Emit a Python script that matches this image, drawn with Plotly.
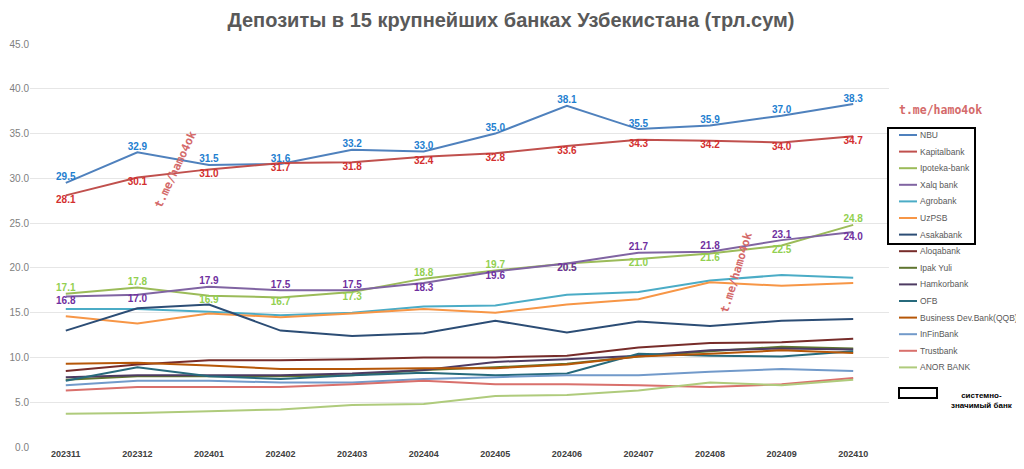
import plotly.graph_objects as go

months = ["202311", "202312", "202401", "202402", "202403", "202404",
          "202405", "202406", "202407", "202408", "202409", "202410"]

nbu = [29.5, 32.9, 31.5, 31.6, 33.2, 33.0, 35.0, 38.1, 35.5, 35.9, 37.0, 38.3]
kapitalbank = [28.1, 30.1, 31.0, 31.7, 31.8, 32.4, 32.8, 33.6, 34.3, 34.2, 34.0, 34.7]
ipoteka = [17.1, 17.8, 16.9, 16.7, 17.3, 18.8, 19.7, 20.5, 21.0, 21.6, 22.5, 24.8]
xalq = [16.8, 17.0, 17.9, 17.5, 17.5, 18.3, 19.6, 20.5, 21.7, 21.8, 23.1, 24.0]
agrobank = [15.4, 15.4, 15.1, 14.7, 15.0, 15.7, 15.8, 17.0, 17.3, 18.6, 19.2, 18.9]
uzpsb = [14.6, 13.8, 14.9, 14.5, 14.9, 15.4, 15.0, 15.9, 16.5, 18.4, 18.0, 18.3]
asakabank = [13.0, 15.5, 15.9, 13.0, 12.4, 12.7, 14.1, 12.8, 14.0, 13.5, 14.1, 14.3]
aloqabank = [8.5, 9.2, 9.7, 9.7, 9.8, 10.0, 10.0, 10.2, 11.1, 11.6, 11.7, 12.1]
ipak_yuli = [7.5, 7.9, 7.9, 7.9, 8.0, 8.6, 8.9, 9.3, 10.1, 10.7, 11.2, 11.0]
hamkorbank = [7.8, 8.0, 8.0, 8.0, 8.2, 8.6, 9.5, 9.8, 10.2, 10.8, 11.0, 10.9]
ofb = [7.4, 8.9, 7.9, 7.6, 8.0, 8.3, 8.0, 8.2, 10.4, 10.2, 10.1, 10.7]
qqb = [9.3, 9.4, 9.1, 8.7, 8.7, 8.8, 8.8, 9.2, 10.1, 10.4, 10.8, 10.5]
infinbank = [6.9, 7.4, 7.4, 7.2, 7.2, 7.6, 7.8, 8.0, 8.0, 8.4, 8.7, 8.5]
trustbank = [6.3, 6.7, 6.7, 6.7, 7.0, 7.4, 7.0, 7.0, 6.9, 6.7, 7.0, 7.7]
anor = [3.7, 3.8, 4.0, 4.2, 4.7, 4.8, 5.7, 5.8, 6.3, 7.2, 6.9, 7.5]

banks = [
    ("NBU", nbu, "#4F81BD"),
    ("Kapitalbank", kapitalbank, "#C0504D"),
    ("Ipoteka-bank", ipoteka, "#9BBB59"),
    ("Xalq bank", xalq, "#8064A2"),
    ("Agrobank", agrobank, "#4BACC6"),
    ("UzPSB", uzpsb, "#F79646"),
    ("Asakabank", asakabank, "#2C4D75"),
    ("Aloqabank", aloqabank, "#772C2A"),
    ("Ipak Yuli", ipak_yuli, "#5F7530"),
    ("Hamkorbank", hamkorbank, "#4D3B62"),
    ("OFB", ofb, "#276A7C"),
    ("Business Dev.Bank(QQB)", qqb, "#B65708"),
    ("InFinBank", infinbank, "#729ACA"),
    ("Trustbank", trustbank, "#D9706C"),
    ("ANOR BANK", anor, "#AFCB7C"),
]

# data label colours for the four labelled series
label_colors = {"NBU": "#1F7FD0", "Kapitalbank": "#D32F2F",
                "Ipoteka-bank": "#92D050", "Xalq bank": "#7030A0"}

FONT = "Liberation Sans"

# the page puts the figure 8px in from the top-left corner
OFF = 8
W, H = 1024 - OFF, 469 - OFF
# plot area in page pixels (left, right, top, bottom)
L, R, T, B = 30, 889, 44, 447


def px(x):
    return (x - L) / (R - L)


def py(y):
    return (B - y) / (B - T)


def label_pos(name, vals):
    if name == "NBU":
        return ["top center"] * len(vals)
    if name == "Kapitalbank":
        return ["bottom center"] * len(vals)
    other = xalq if name == "Ipoteka-bank" else ipoteka
    return ["top center" if v > o else "bottom center" for v, o in zip(vals, other)]


fig = go.Figure()
for name, vals, color in banks:
    if name in label_colors:
        fig.add_trace(go.Scatter(
            x=months, y=vals, name=name, mode="lines+text",
            line=dict(color=color, width=2),
            text=[f"{v:.1f}" for v in vals],
            textposition=label_pos(name, vals),
            textfont=dict(family=FONT, size=10, color=label_colors[name], weight="bold"),
            cliponaxis=False,
        ))
    else:
        fig.add_trace(go.Scatter(x=months, y=vals, name=name, mode="lines",
                                 line=dict(color=color, width=2)))

# hand-made legend to match the tight spacing of the original
for i, (name, vals, color) in enumerate(banks):
    yy = 135 + i * 16.6
    fig.add_shape(type="line", xref="paper", yref="paper",
                  x0=px(899), x1=px(917), y0=py(yy), y1=py(yy),
                  line=dict(color=color, width=2))
    fig.add_annotation(x=px(918), y=py(yy), xref="paper", yref="paper",
                       text=name, showarrow=False, xanchor="left", yanchor="middle",
                       font=dict(family=FONT, size=8.5, color="#595959"))

# frame around the systemically important banks in the legend
fig.add_shape(type="rect", xref="paper", yref="paper",
              x0=px(888), x1=px(975), y0=py(244), y1=py(128),
              line=dict(color="black", width=2))
fig.add_shape(type="rect", xref="paper", yref="paper",
              x0=px(899), x1=px(937), y0=py(398), y1=py(388),
              line=dict(color="black", width=2))
fig.add_annotation(x=px(982), y=py(400), xref="paper", yref="paper",
                   text="системно-<br>значимый банк", showarrow=False,
                   xanchor="center", yanchor="middle",
                   font=dict(family=FONT, size=8, color="black", weight="bold"))

# watermarks
wm = dict(family="DejaVu Sans Mono", size=11.5, color="#D46A6A", weight="bold")
for (wx, wy, ang) in [(940, 110, 0), (175, 170, -65), (736, 273, -73)]:
    fig.add_annotation(x=px(wx), y=py(wy), xref="paper", yref="paper",
                       text="t.me/hamo4ok", showarrow=False, font=wm, textangle=ang,
                       xanchor="center", yanchor="middle")

fig.update_layout(
    width=W, height=H,
    margin=dict(l=L - OFF, r=1024 - R, t=T - OFF, b=469 - B, autoexpand=False),
    paper_bgcolor="white", plot_bgcolor="white",
    showlegend=False,
    title=dict(text="Депозиты в 15 крупнейших банках Узбекистана (трл.сум)",
               x=(511 - OFF) / W, xref="container", xanchor="center",
               y=1 - (20 - OFF) / H, yref="container", yanchor="middle",
               font=dict(family=FONT, size=20, color="#595959", weight="bold")),
    xaxis=dict(type="category", range=[-0.5, len(months) - 0.5],
               showgrid=False, showline=False, ticks="", automargin=False,
               tickfont=dict(family=FONT, size=9, color="#404040", weight="bold")),
    yaxis=dict(range=[0, 45], dtick=5, tickformat=".1f", gridcolor="#E6E6E6",
               zeroline=False, showline=False, ticks="", automargin=False,
               tickfont=dict(family=FONT, size=10, color="#808080")),
)

fig.write_html("out.html")
